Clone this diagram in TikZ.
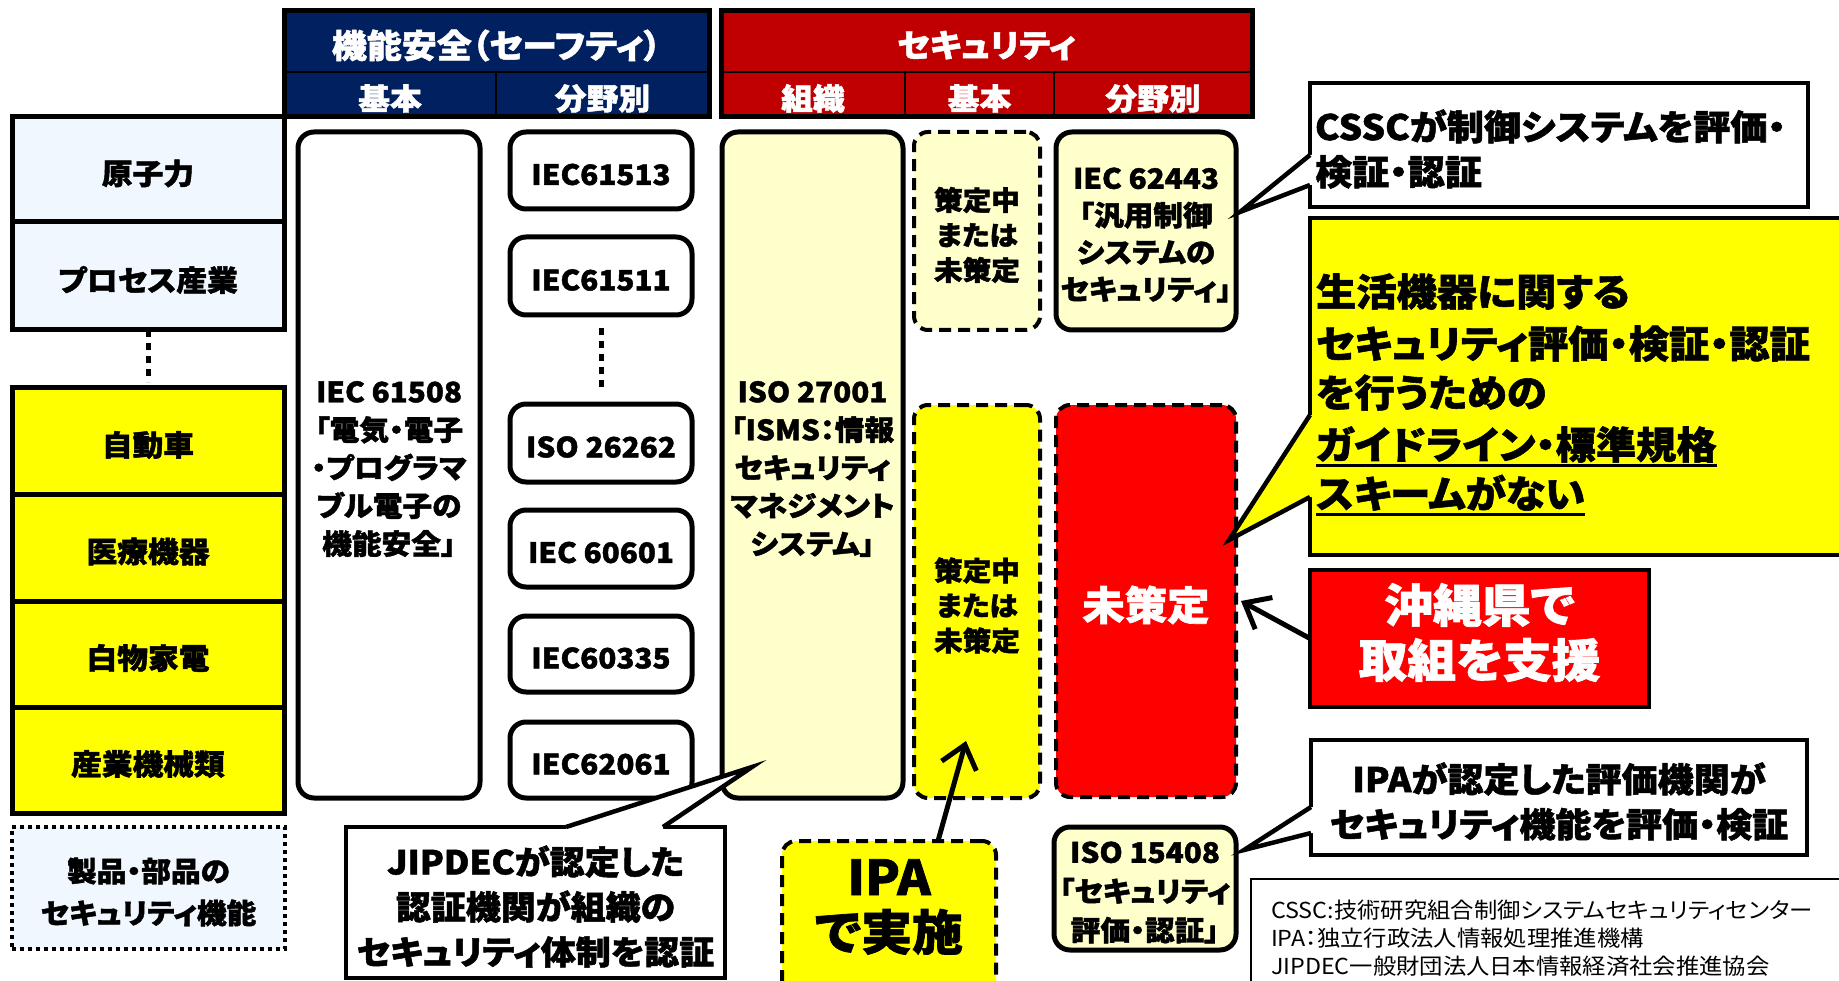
\documentclass[tikz,border=0pt]{standalone}
\usepackage{fontspec}
\setmainfont{Noto Sans CJK JP}[FakeStretch=1.06,RawFeature={+palt},BoldFeatures={FakeBold=1.5}]
\usetikzlibrary{arrows.meta}
\definecolor{navy}{RGB}{0,32,96}
\definecolor{hdrred}{RGB}{192,0,0}
\definecolor{ltyellow}{RGB}{255,255,204}
\definecolor{ltblue}{RGB}{240,247,255}
\definecolor{myyellow}{RGB}{255,255,0}
\definecolor{myred}{RGB}{255,0,0}
\newcommand{\fsz}[2]{\fontsize{#1}{#2}\selectfont\bfseries}
\newcommand{\tsh}{-4pt}
% box node (shape) + its text node, text lowered slightly
\newcommand{\bx}[7]{\node[#6, minimum width={(#4)-(#2)}, minimum height={(#5)-(#3)}] (#1) at ({((#2)+(#4))/2},{((#3)+(#5))/2}) {};
 \node[#6, draw=none, fill=none] (#1t) at ([yshift=\tsh]#1.center) {#7};}
\tikzset{
 every node/.style={inner sep=0pt, outer sep=0pt, align=center},
 hdrB/.style={fill=navy, draw=black, line width=1.5pt, text=white, font=\fsz{30}{32}},
 hdrR/.style={fill=hdrred, draw=black, line width=1.5pt, text=white, font=\fsz{30}{32}},
 catb/.style={fill=ltblue, draw=black, line width=5pt, font=\fsz{29}{35}},
 caty/.style={fill=myyellow, draw=black, line width=5pt, font=\fsz{29}{35}},
 prodbox/.style={fill=ltblue, draw=black, line width=4pt, dash pattern=on 4pt off 4pt, font=\fsz{28}{42}},
 rbox/.style={fill=white, draw=black, line width=5pt, rounded corners=16pt, font=\fsz{28}{38}},
 rboxly/.style={rbox, fill=ltyellow},
 dboxly/.style={fill=ltyellow, draw=black, line width=4pt, dash pattern=on 12pt off 7pt, rounded corners=14pt, font=\fsz{27}{35}},
 dboxy/.style={dboxly, fill=myyellow},
 dboxr/.style={dboxly, fill=myred, text=white, font=\fsz{40}{48}},
 callbox/.style={fill=white, draw=black, line width=4.5pt},
 ybox/.style={fill=myyellow, draw=black, line width=4.5pt},
 calline/.style={draw=black, line width=4.5pt, line join=miter},
 dotline/.style={line width=5pt, dash pattern=on 7pt off 6pt},
 arr/.style={line width=5pt, -{Straight Barb[length=22pt,width=36pt]}},
 ytext/.style={font=\fsz{38}{40}, anchor=base west},
}
\begin{document}
\begin{tikzpicture}[x=1pt,y=-1pt]
\path[fill=white, use as bounding box] (0,0) rectangle (1839,981);

% left column
\bx{nuc}{12}{117}{284}{222}{catb}{原子力}
\bx{proc}{12}{222}{284}{330}{catb}{プロセス産業}
\bx{car}{12}{388}{284}{494}{caty}{自動車}
\bx{med}{12}{494}{284}{601}{caty}{医療機器}
\bx{home}{12}{601}{284}{707}{caty}{白物家電}
\bx{ind}{12}{707}{284}{813}{caty}{産業機械類}
\bx{prod}{12}{827}{285}{949}{prodbox}{製品・部品の\\セキュリティ機能}
\draw[dotline, shorten >=6pt] (proc.south) -- (car.north);

% functional safety header
\bx{sfT}{284}{11}{709}{72}{hdrB, font=\fsz{33}{34}}{機能安全（セーフティ）}
\bx{sfB}{284}{72}{496}{117}{hdrB}{基本}
\bx{sfF}{496}{72}{709}{117}{hdrB}{分野別}
\draw[line width=5pt] (sfT.north west) rectangle (sfF.south east);

% security header
\bx{scT}{721}{11}{1252}{72}{hdrR, font=\fsz{32}{34}}{セキュリティ}
\bx{scO}{721}{72}{905}{117}{hdrR}{組織}
\bx{scB}{905}{72}{1054}{117}{hdrR}{基本}
\bx{scF}{1054}{72}{1252}{117}{hdrR}{分野別}
\draw[line width=5pt] (scT.north west) rectangle (scF.south east);

% functional safety columns
\bx{iec61508}{298}{132}{480}{798}{rbox}{IEC 61508\\「電気・電子\\・プログラマ\\ブル電子の\\機能安全」}
\bx{f1}{510}{132}{692}{209}{rbox}{IEC61513}
\bx{f2}{510}{237}{692}{315}{rbox}{IEC61511}
\bx{f3}{510}{404}{692}{482}{rbox}{ISO 26262}
\bx{f4}{510}{510}{692}{587}{rbox}{IEC 60601}
\bx{f5}{510}{616}{692}{692}{rbox}{IEC60335}
\bx{f6}{510}{722}{692}{798}{rbox}{IEC62061}
\draw[dotline, shorten <=13pt, shorten >=16pt] (f2.south) -- (f3.north);

% security columns
\bx{iso27001}{722}{132}{903}{798}{rboxly}{ISO 27001\\「ISMS：情報\\セキュリティ\\マネジメント\\システム」}
\bx{sb1}{914}{132}{1040}{330}{dboxly}{策定中\\または\\未策定}
\bx{sb2}{914}{405}{1040}{798}{dboxy}{策定中\\または\\未策定}
\bx{iec62443}{1056}{132}{1236}{330}{rboxly, font=\fsz{28}{37}}{IEC 62443\\「汎用制御\\システムの\\セキュリティ」}
\bx{undef}{1056}{405}{1236}{797}{dboxr}{未策定}
\bx{iso15408}{1054}{827}{1236}{950}{rboxly, font=\fsz{28}{39}}{ISO 15408\\「セキュリティ\\評価・認証」}

% CSSC callout
\bx{cssc}{1310}{83}{1808}{207}{callbox, align=left, text width=488pt, font=\fsz{35}{45}}{CSSCが制御システムを評価・\\検証・認証}
\coordinate (cssctip) at (1240,212);
\fill[white] (1310,155) -- (cssctip) -- (1310,185) -- (1316,185) -- (1316,155) -- cycle;
\draw[calline] (1310,155) -- (cssctip) -- (1310,185);

% yellow callout
\node[ybox, minimum width=550, minimum height=337] (ycall) at (1585,386.5) {};
\coordinate (ytip) at (1229,540);
\fill[myyellow] (1310,415) -- (ytip) -- (1310,497) -- (1316,497) -- (1316,415) -- cycle;
\draw[calline] (1310,415) -- (ytip) -- (1310,497);
\node[ytext] (y1) at (1316,306) {生活機器に関する};
\node[ytext] (y2) at (1316,358) {セキュリティ評価・検証・認証};
\node[ytext] (y3) at (1316,407) {を行うための};
\node[ytext] (y4) at (1316,459) {ガイドライン・標準規格};
\node[ytext] (y5) at (1316,508) {スキームがない};
\draw[line width=3pt] ([yshift=-6pt]y4.base west) -- ([yshift=-6pt]y4.base east);
\draw[line width=3pt] ([yshift=-6pt]y5.base west) -- ([yshift=-6pt]y5.base east);

% Okinawa box
\node[fill=myred, draw=black, line width=4.5pt, minimum width=339, minimum height=137] (okinawa) at (1479.5,638.5) {};
\node[text=white, font=\fsz{46}{55}] (okinawat) at ([yshift=6pt]okinawa.center) {沖縄県で\\取組を支援};
\draw[arr] (okinawa.west) -- ([xshift=5pt]undef.east);

% IPA callout
\bx{ipacall}{1311}{740}{1807}{855}{callbox, font=\fsz{34}{45}}{IPAが認定した評価機関が\\セキュリティ機能を評価・検証}
\coordinate (ipatip) at (1244,850);
\fill[white] (1311,807) -- (ipatip) -- (1311,833) -- (1317,833) -- (1317,807) -- cycle;
\draw[calline] (1311,807) -- (ipatip) -- (1311,833);

% legend
\node[draw=black, line width=1.5pt, fill=white, minimum width=599, minimum height=116] (legend) at (1550.5,937) {};
\node[align=left, text width=559pt, font=\fontsize{22}{28}\selectfont] (legendt) at ([yshift=-1pt]legend.center) {CSSC:技術研究組合制御システムセキュリティセンター\\IPA：独立行政法人情報処理推進機構\\JIPDEC一般財団法人日本情報経済社会推進協会};

% JIPDEC callout
\bx{jipdec}{346}{827}{725}{978}{callbox, font=\fsz{33}{45}}{JIPDECが認定した\\認証機関が組織の\\セキュリティ体制を認証}
\coordinate (jiptip) at (752,767);
\fill[white] (566,827) -- (jiptip) -- (663,827) -- (663,833) -- (566,833) -- cycle;
\draw[calline] (566,827) -- (jiptip) -- (663,827);

% IPA box
\node[dboxy, minimum width=214, minimum height=154] (ipa) at (889,918) {};
\node[font=\fsz{48}{55}] (ipatext) at (889,907) {IPA\\で実施};
\coordinate (ipaup) at (966,741);
\draw[arr] ([xshift=49pt]ipa.north) -- (ipaup);
\end{tikzpicture}
\end{document}
